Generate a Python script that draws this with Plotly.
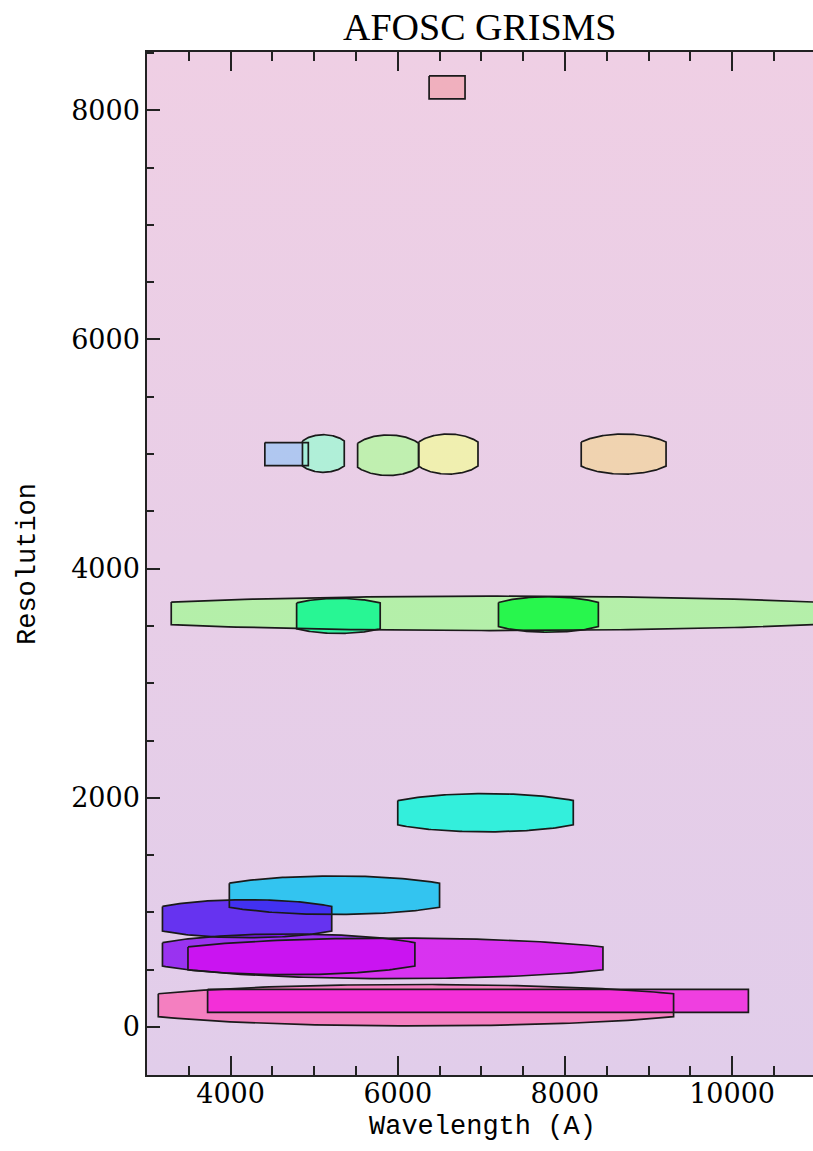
import base64
import numpy as np
import plotly.graph_objects as go

# ---------------- data ----------------
wl_start = [6375, 4410, 4860, 5520, 6250, 8195, 3290, 4790, 7205, 6000, 3985, 3185, 3185, 3490, 3135, 3725]
wl_end = [6805, 4930, 5360, 6250, 6960, 9210, 11000, 5790, 8400, 8100, 6500, 5210, 6205, 8455, 9300, 10195]
resolution = [8200, 5000, 5005, 4990, 5000, 5000, 3610, 3588, 3600, 1870, 1150, 945, 634, 599, 190, 228]
spread_end = [100, 100, 110, 105, 105, 105, 98, 113, 105, 106, 105, 107, 102, 100, 100, 100]
spread_mid = [100, 100, 164, 177, 175, 175, 150, 153, 155, 167, 168, 166, 178, 177, 181, 100]
colors = ["#F0B0BE", "#B0C8F0", "#B0F0D8", "#C0F0B0", "#F0F0B0", "#F0D4B0",
          "#B4F0AA", "#33F0A0", "#33F05A", "#33F0DC", "#33C5F0", "#6633F0",
          "#9A33F0", "#D933F0", "#F580C0", "#F040E0"]

x_ticks = [4000, 6000, 8000, 10000]
y_ticks = [0, 2000, 4000, 6000, 8000]

title_text = "AFOSC GRISMS"
x_title = "Wavelength (A)"
y_title = "Resolution"

# ---------------- styling ----------------
X_RANGE = [3000, 10968]
Y_RANGE = [-419, 8509]
BG_TOP = (239, 207, 228)
BG_BOT = (225, 205, 234)
ALPHA = 0.8


def fill_rgba(hex_color, r_val):
    obs = np.array([int(hex_color[i:i + 2], 16) for i in (1, 3, 5)], float)
    f = (r_val - Y_RANGE[0]) / (Y_RANGE[1] - Y_RANGE[0])
    bg = np.array(BG_BOT) + f * (np.array(BG_TOP) - np.array(BG_BOT))
    base = np.clip((obs - (1 - ALPHA) * bg) / ALPHA, 0, 255)
    return "rgba(%d,%d,%d,%.2f)" % (base[0], base[1], base[2], ALPHA)


def outline(x0, x1, rc, he, hm, n=80):
    lam = np.linspace(x0, x1, n)
    u = (lam - (x0 + x1) / 2) / ((x1 - x0) / 2)
    k = 1 - (he / hm) ** 2
    h = hm * np.sqrt(np.clip(1 - k * u ** 2, 0, None))
    xs = np.concatenate([lam, lam[::-1], lam[:1]])
    ys = np.concatenate([rc + h, (rc - h)[::-1], [rc + h[0]]])
    return xs, ys


fig = go.Figure()
shapes_xy = [outline(a, b, r, e, m) for a, b, r, e, m in
             zip(wl_start, wl_end, resolution, spread_end, spread_mid)]

for (xs, ys), c, r in zip(shapes_xy, colors, resolution):
    fig.add_trace(go.Scatter(x=xs, y=ys, mode="lines", fill="toself",
                             fillcolor=fill_rgba(c, r), line=dict(width=0),
                             hoverinfo="skip", showlegend=False))
for xs, ys in shapes_xy:
    fig.add_trace(go.Scatter(x=xs, y=ys, mode="lines",
                             line=dict(color="#1a1a1a", width=1.7),
                             hoverinfo="skip", showlegend=False))

svg = ('<svg xmlns="http://www.w3.org/2000/svg" width="10" height="100" '
       'preserveAspectRatio="none"><defs><linearGradient id="g" x1="0" y1="0" '
       'x2="0" y2="1"><stop offset="0" stop-color="rgb(%d,%d,%d)"/>'
       '<stop offset="1" stop-color="rgb(%d,%d,%d)"/></linearGradient></defs>'
       '<rect width="10" height="100" fill="url(#g)"/></svg>') % (BG_TOP + BG_BOT)
src = "data:image/svg+xml;base64," + base64.b64encode(svg.encode()).decode()

W, H = 813, 1151
ML, MR, MT, MB = 147, 0, 52, 76
PW, PH = W - ML - MR, H - MT - MB

fig.update_layout(
    width=W, height=H,
    margin=dict(l=ML, r=MR, t=MT, b=MB, pad=0),
    paper_bgcolor="white",
    plot_bgcolor="rgba(0,0,0,0)",
    images=[dict(source=src, xref="paper", yref="paper", x=0, y=1,
                 sizex=1, sizey=1, xanchor="left", yanchor="top",
                 sizing="stretch", layer="below")],
    xaxis=dict(range=X_RANGE, tickvals=x_ticks, tickformat="d", ticks="inside",
               ticklen=19, tickwidth=1.5, tickcolor="#222", showline=True,
               linecolor="#222", linewidth=1.5, mirror="ticks", showgrid=False,
               zeroline=False, ticklabelstandoff=-6,
               tickfont=dict(family="DejaVu Serif", size=27, color="black"),
               minor=dict(dtick=500, tick0=0, ticks="inside", ticklen=9,
                          tickwidth=1.5, tickcolor="#222", showgrid=False)),
    yaxis=dict(range=Y_RANGE, tickvals=y_ticks, tickformat="d", ticks="inside",
               ticklen=13, tickwidth=1.5, tickcolor="#222", showline=True,
               linecolor="#222", linewidth=1.5, showgrid=False, zeroline=False,
               tickfont=dict(family="DejaVu Serif", size=27, color="black"),
               minor=dict(dtick=500, tick0=0, ticks="inside", ticklen=7,
                          tickwidth=1.5, tickcolor="#222", showgrid=False)),
    annotations=[
        dict(text=title_text, xref="paper", yref="paper",
             x=(480 - ML) / PW, y=1 + (MT - 27) / PH, xanchor="center",
             yanchor="middle", showarrow=False,
             font=dict(family="Liberation Serif", size=38, color="black")),
        dict(text=x_title, xref="paper", yref="paper",
             x=(482 - ML) / PW, y=-(1127 - (H - MB)) / PH, xanchor="center",
             yanchor="middle", showarrow=False,
             font=dict(family="Liberation Mono", size=27, color="black")),
        dict(text=y_title, xref="paper", yref="paper",
             x=(28 - ML) / PW, y=((H - MB) - 564) / PH, xanchor="center",
             yanchor="middle", showarrow=False, textangle=-90,
             font=dict(family="Liberation Mono", size=27, color="black")),
    ],
)

fig.write_html("out.html",
               config={"displayModeBar": False},
               post_script="document.body.style.margin='0';"
                           "document.body.style.overflow='hidden';")
